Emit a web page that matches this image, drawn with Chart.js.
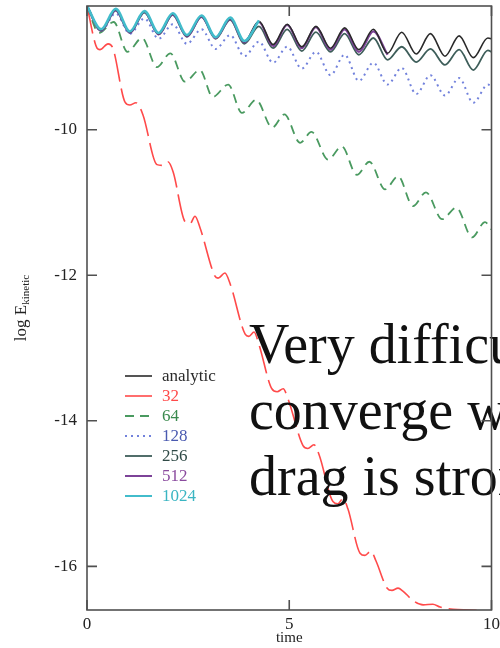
<!DOCTYPE html>
<html>
<head>
<meta charset="utf-8">
<script src="https://cdn.jsdelivr.net/npm/chart.js@4.4.1/dist/chart.umd.min.js"></script>
<style>
  html, body { margin: 0; padding: 0; background: #fff; }
  #wrap { width: 500px; height: 648px; }
</style>
</head>
<body>
<div id="wrap"><canvas id="grafico" width="500" height="648"></canvas></div>
<script>
// Tiempos de máximos y mínimos de la oscilación (compartidos por analytic, 128..1024)
const tiempoOsc = [0, 0.35, 0.71, 1.06, 1.42, 1.77, 2.12, 2.47, 2.83, 3.18, 3.54, 3.89, 4.25, 4.60, 4.95,
                   5.31, 5.66, 6.02, 6.37, 6.72, 7.08, 7.43, 7.78, 8.14, 8.49, 8.85, 9.20, 9.55, 9.91, 10.0];

// log E_kinetic en esos tiempos
const energiaAnalitica = [-8.30, -8.63, -8.35, -8.66, -8.38, -8.68, -8.41, -8.71, -8.44, -8.73, -8.47, -8.79, -8.51, -8.83, -8.55,
                          -8.86, -8.58, -8.88, -8.60, -8.90, -8.62, -8.95, -8.66, -8.96, -8.68, -8.99, -8.71, -9.01, -8.74, -8.75];
const energia1024 = [-8.30, -8.62, -8.34, -8.65, -8.37, -8.67, -8.40, -8.70, -8.43, -8.73, -8.46, -8.78, -8.50];
const energia512 = [-8.30, -8.64, -8.36, -8.67, -8.38, -8.69, -8.42, -8.72, -8.45, -8.74, -8.48, -8.80, -8.52, -8.85, -8.56,
                    -8.88, -8.59, -8.90, -8.62, -8.93, -8.65, -8.97];
const energia256 = [-8.30, -8.64, -8.36, -8.67, -8.39, -8.69, -8.42, -8.72, -8.45, -8.75, -8.49, -8.82, -8.58, -8.88, -8.62,
                    -8.92, -8.66, -8.93, -8.68, -8.97, -8.74, -9.04, -8.86, -9.07, -8.89, -9.11, -8.90, -9.18, -8.91, -8.93];
const energia128 = [-8.30, -8.64, -8.40, -8.68, -8.47, -8.75, -8.55, -8.82, -8.62, -8.89, -8.70, -8.99, -8.79, -9.08, -8.86,
                    -9.16, -8.93, -9.25, -8.97, -9.33, -9.08, -9.38, -9.15, -9.51, -9.25, -9.53, -9.29, -9.63, -9.38, -9.40];

// Resolución 64: decae más rápido
const tiempo64 = [0, 0.30, 0.66, 1.00, 1.36, 1.73, 2.06, 2.42, 2.79, 3.11, 3.49, 3.83, 4.18, 4.58, 4.88,
                  5.27, 5.55, 5.96, 6.30, 6.67, 6.98, 7.37, 7.69, 8.06, 8.38, 8.78, 9.13, 9.52, 9.84, 10.0];
const energia64 = [-8.30, -8.67, -8.52, -8.93, -8.74, -9.14, -8.95, -9.34, -9.18, -9.55, -9.38, -9.77, -9.59, -9.97, -9.79,
                   -10.18, -10.03, -10.41, -10.23, -10.62, -10.44, -10.82, -10.64, -11.05, -10.86, -11.23, -11.07, -11.48, -11.27, -11.37];

// Resolución 32: cae hasta el fondo del eje
const tiempo32 = [0, 0.25, 0.32, 0.52, 0.64, 0.94, 1.06, 1.21, 1.38, 1.73, 1.85, 2.00, 2.13, 2.42, 2.55, 2.67, 2.79,
                  3.16, 3.24, 3.41, 3.54, 3.91, 4.00, 4.13, 4.25, 4.57, 4.70, 4.85, 4.97, 5.34, 5.46, 5.61, 5.74,
                  6.08, 6.20, 6.33, 6.45, 6.75, 6.87, 7.02, 7.14, 7.42, 7.54, 7.69, 7.81, 8.06, 8.31, 8.55, 8.73,
                  9.05, 9.47, 10.0];
const energia32 = [-8.30, -8.88, -8.90, -8.82, -8.88, -9.62, -9.66, -9.63, -9.79, -10.48, -10.49, -10.44, -10.58,
                   -11.26, -11.29, -11.19, -11.34, -12.01, -12.04, -11.97, -12.12, -12.81, -12.84, -12.78, -12.95,
                   -13.56, -13.60, -13.56, -13.70, -14.34, -14.38, -14.33, -14.47, -15.11, -15.14, -15.07, -15.21,
                   -15.82, -15.85, -15.79, -15.92, -16.30, -16.33, -16.30, -16.34, -16.47, -16.53, -16.52, -16.56,
                   -16.59, -16.60, -16.62];

const nombresSeries = ['analytic', '32', '64', '128', '256', '512', '1024'];
const etiquetasX = [0, 5, 10];
const etiquetasY = [-10, -12, -14, -16];
const textoAviso = ['Very difficult to', 'converge when', 'drag is strong'];

const SERIF = '"Liberation Serif", "Times New Roman", serif';
Chart.defaults.font.family = SERIF;

function pares(t, e) {
    return e.map((v, i) => ({ x: t[i], y: v }));
}

function serie(idx, datos, color, ancho, dash, orden, colorTexto) {
    return {
        label: nombresSeries[idx],
        data: datos,
        borderColor: color,
        borderWidth: ancho,
        borderDash: dash,
        showLine: true,
        pointRadius: 0,
        cubicInterpolationMode: 'monotone',
        order: orden,
        colorTexto: colorTexto || color
    };
}

// Leyenda dentro del área del gráfico + texto grande encima
const leyendaInterna = {
    id: 'leyendaInterna',
    afterDatasetsDraw(chart) {
        const ctx = chart.ctx;
        ctx.save();
        chart.data.datasets.forEach((ds, i) => {
            const y = 376 + i * 20;
            ctx.beginPath();
            ctx.strokeStyle = ds.borderColor;
            ctx.lineWidth = Math.min(ds.borderWidth, 2);
            ctx.setLineDash(ds.borderDash || []);
            ctx.moveTo(125, y);
            ctx.lineTo(152, y);
            ctx.stroke();
            ctx.setLineDash([]);
            ctx.fillStyle = ds.colorTexto;
            ctx.font = '17px ' + SERIF;
            ctx.textBaseline = 'middle';
            ctx.fillText(ds.label, 162, y + 1);
        });

        ctx.fillStyle = '#111';
        ctx.font = '56px ' + SERIF;
        ctx.textBaseline = 'alphabetic';
        const bases = [363, 429, 495];
        textoAviso.forEach((linea, i) => ctx.fillText(linea, 249, bases[i]));
        ctx.restore();
    }
};

// Marco, marcas de los ejes hacia dentro y título del eje Y con subíndice
const marcoEjes = {
    id: 'marcoEjes',
    afterDraw(chart) {
        const { ctx, chartArea: a, scales: { x, y } } = chart;
        ctx.save();
        ctx.strokeStyle = '#505050';
        ctx.lineWidth = 1.6;
        ctx.strokeRect(a.left, a.top, a.right - a.left, a.bottom - a.top);

        ctx.beginPath();
        x.ticks.forEach(t => {
            const px = x.getPixelForValue(t.value);
            const largo = etiquetasX.includes(t.value) ? 10 : 5;
            ctx.moveTo(px, a.bottom); ctx.lineTo(px, a.bottom - largo);
            ctx.moveTo(px, a.top); ctx.lineTo(px, a.top + largo);
        });
        y.ticks.forEach(t => {
            const py = y.getPixelForValue(t.value);
            const largo = etiquetasY.includes(t.value) ? 10 : 5;
            ctx.moveTo(a.left, py); ctx.lineTo(a.left + largo, py);
            ctx.moveTo(a.right, py); ctx.lineTo(a.right - largo, py);
        });
        ctx.stroke();

        // "log E" + subíndice "kinetic", girado
        ctx.translate(22, (a.top + a.bottom) / 2);
        ctx.rotate(-Math.PI / 2);
        ctx.fillStyle = '#222';
        ctx.textBaseline = 'middle';
        ctx.font = '17px ' + SERIF;
        const base = 'log E';
        const wBase = ctx.measureText(base).width;
        ctx.font = '11px ' + SERIF;
        const wSub = ctx.measureText('kinetic').width;
        const x0 = -(wBase + wSub) / 2;
        ctx.font = '17px ' + SERIF;
        ctx.fillText(base, x0, 0);
        ctx.font = '11px ' + SERIF;
        ctx.fillText('kinetic', x0 + wBase, 4);
        ctx.restore();
    }
};

const grafico = new Chart(document.getElementById('grafico'), {
    type: 'scatter',
    data: {
        datasets: [
            serie(0, pares(tiempoOsc, energiaAnalitica), '#2a2a2a', 1.6, [], 1),
            serie(1, pares(tiempo32, energia32), '#ff4a4a', 1.6, [28, 7], 6),
            serie(2, pares(tiempo64, energia64), '#4a9a60', 1.8, [9, 6], 5, '#3a8a4e'),
            serie(3, pares(tiempoOsc, energia128), '#7282dc', 2, [2, 4], 4, '#4a5ab0'),
            serie(4, pares(tiempoOsc, energia256), '#3e5e5a', 1.8, [], 3, '#2f4a46'),
            serie(5, pares(tiempoOsc, energia512), '#7d4398', 2.2, [], 2, '#8a4a9e'),
            serie(6, pares(tiempoOsc, energia1024), '#42bccb', 2.6, [], 0, '#3ab5c2')
        ]
    },
    options: {
        responsive: false,
        animation: false,
        events: [],
        layout: { padding: { top: 6, right: 8.5, left: 0, bottom: 0 } },
        plugins: { legend: { display: false }, tooltip: { enabled: false } },
        scales: {
            x: {
                type: 'linear',
                min: 0,
                max: 10,
                grid: { display: false, drawTicks: false },
                border: { display: false },
                ticks: {
                    stepSize: 1,
                    autoSkip: false,
                    maxRotation: 0,
                    padding: 4,
                    color: '#222',
                    font: { size: 17 },
                    callback: v => etiquetasX.includes(v) ? String(v) : null
                },
                title: {
                    display: true,
                    text: 'time',
                    color: '#222',
                    font: { size: 15 },
                    padding: { top: 0, bottom: 1 }
                },
                afterFit: s => { s.height = 38; s.paddingLeft = 0; s.paddingRight = 0; }
            },
            y: {
                type: 'linear',
                min: -16.6,
                max: -8.3,
                grid: { display: false, drawTicks: false },
                border: { display: false },
                ticks: {
                    stepSize: 1,
                    includeBounds: false,
                    autoSkip: false,
                    padding: 10,
                    color: '#222',
                    font: { size: 17 },
                    callback: v => etiquetasY.includes(v) ? String(v) : null
                },
                afterFit: s => { s.width = 87; s.paddingTop = 0; s.paddingBottom = 0; }
            }
        }
    },
    plugins: [leyendaInterna, marcoEjes]
});
</script>
</body>
</html>
